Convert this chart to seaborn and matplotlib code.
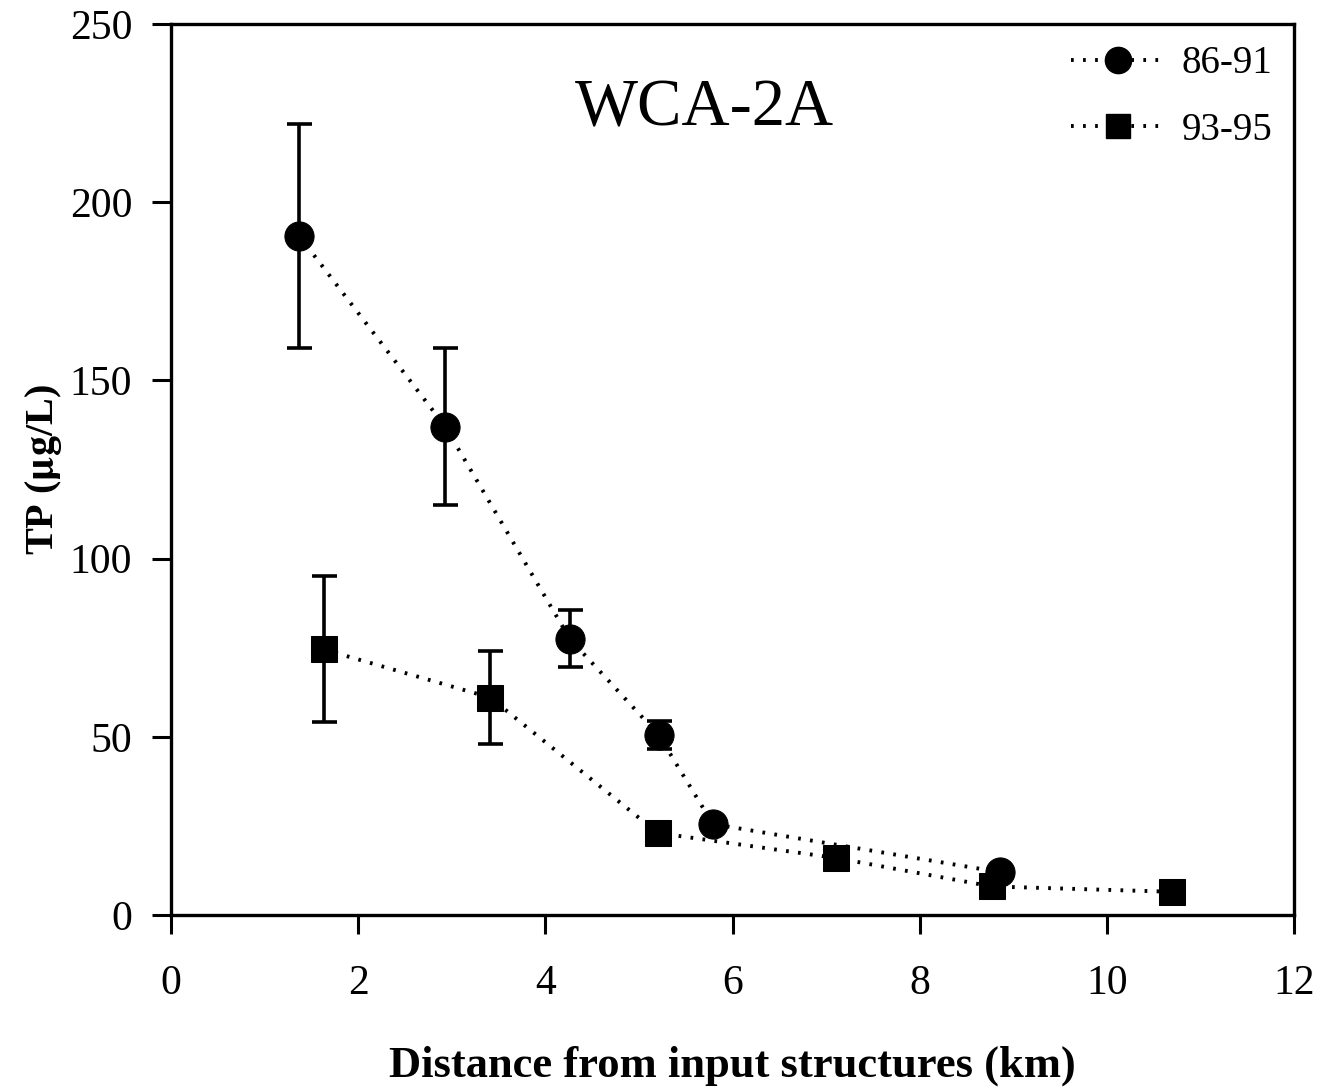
import numpy as np
import pandas as pd
import matplotlib
matplotlib.use("Agg")
import matplotlib.pyplot as plt
import seaborn as sns
from matplotlib.lines import Line2D

# Total phosphorus along the distance gradient, WCA-2A
dist_8691 = [1.37, 2.93, 4.26, 5.21, 5.79, 8.86]
tp_8691 = [190.5, 137.0, 77.5, 50.5, 25.5, 12.0]
err_8691 = [31.5, 22.0, 8.0, 4.0, 0.0, 0.0]

dist_9395 = [1.63, 3.41, 5.20, 7.10, 8.77, 10.70]
tp_9395 = [74.5, 61.0, 23.0, 16.0, 8.0, 6.5]
err_9395 = [20.5, 13.0, 0.0, 0.0, 0.0, 0.0]

series_labels = ["86-91", "93-95"]
x_ticks = [0, 2, 4, 6, 8, 10, 12]
y_ticks = [0, 50, 100, 150, 200, 250]

df = pd.concat([
    pd.DataFrame({"dist": dist_8691, "tp": tp_8691, "err": err_8691, "period": series_labels[0]}),
    pd.DataFrame({"dist": dist_9395, "tp": tp_9395, "err": err_9395, "period": series_labels[1]}),
], ignore_index=True)

sns.set_style("ticks")
plt.rcParams["font.family"] = ["Liberation Serif", "DejaVu Serif"]
plt.rcParams["mathtext.fontset"] = "stix"
for key in ["text.color", "axes.labelcolor", "xtick.color", "ytick.color"]:
    plt.rcParams[key] = "black"

fig = plt.figure(figsize=(13.22, 10.90), dpi=100)
ax = fig.add_axes([0.1294, 0.1606, 0.8495, 0.8174])

dotted = (0, (0.7, 2.4))
markers = {series_labels[0]: "o", series_labels[1]: "s"}
msize = {series_labels[0]: 21, series_labels[1]: 19}

# Error bars first, markers on top
for lab in series_labels:
    sub = df[(df["period"] == lab) & (df["err"] > 0)]
    ax.errorbar(sub["dist"], sub["tp"], yerr=sub["err"], fmt="none",
                ecolor="black", elinewidth=2.6, capsize=9, capthick=2.6, zorder=2)

for lab in series_labels:
    sub = df[df["period"] == lab]
    sns.lineplot(data=sub, x="dist", y="tp", ax=ax, color="black",
                 marker=markers[lab], markersize=msize[lab], markeredgecolor="black",
                 markerfacecolor="black", linewidth=2.8, linestyle=dotted,
                 sort=False, estimator=None, legend=False, zorder=3)

ax.set_xlim(0, 12)
ax.set_ylim(0, 250)
ax.set_xticks(x_ticks)
ax.set_yticks(y_ticks)
ax.tick_params(axis="both", direction="out", length=14, width=2.2,
               labelsize=30, colors="black")
ax.tick_params(axis="x", pad=22)
ax.tick_params(axis="y", pad=14)
for sp in ax.spines.values():
    sp.set_visible(True)
    sp.set_linewidth(2.4)
    sp.set_color("black")

ax.set_xlabel("Distance from input structures (km)", fontsize=32,
              fontweight="bold", labelpad=30)
ax.set_ylabel("TP ($\\mathbf{\\mu}$g/L)", fontsize=29, fontweight="bold", labelpad=4)

ax.text(0.475, 0.905, "WCA-2A", transform=ax.transAxes, fontsize=48,
        ha="center", va="center")

handles = [
    Line2D([], [], color="black", linestyle=dotted, linewidth=2.8,
           marker=markers[lab], markersize=msize[lab] * 0.9)
    for lab in series_labels
]
leg = ax.legend(handles, series_labels, loc="upper right", frameon=False,
                fontsize=28, handlelength=2.4, handletextpad=0.45,
                borderaxespad=0.15, labelspacing=0.75)

fig.savefig("out.png", dpi=100)
